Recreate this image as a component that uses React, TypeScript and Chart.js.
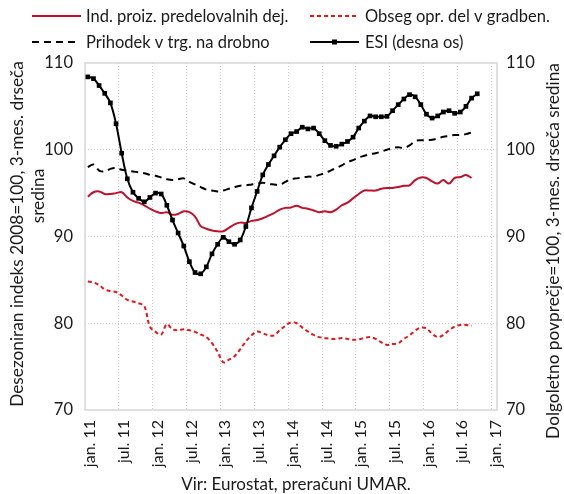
import React, { useEffect, useRef } from "react";
import { Chart, registerables } from "chart.js";
Chart.register(...registerables);

const FONT = "Lato";

const MONTH_NAMES = ["jan.", "feb.", "mar.", "apr.", "maj", "jun.", "jul.", "avg.", "sep.", "okt.", "nov.", "dec."];
const YEARS = ["11", "12", "13", "14", "15", "16", "17"];
const CATEGORIES: string[] = [];
YEARS.forEach((y) => MONTH_NAMES.forEach((m) => CATEGORIES.push(m + " " + y)));
CATEGORIES.length = 73; // jan. 11 .. jan. 17

const TICK_LABELS = ["jan. 11", "jul. 11", "jan. 12", "jul. 12", "jan. 13", "jul. 13", "jan. 14", "jul. 14", "jan. 15", "jul. 15", "jan. 16", "jul. 16", "jan. 17"];
const LEFT_TICKS = [70, 80, 90, 100, 110];

const IND_PROIZ = [
  94.6, 95.1, 95.2, 94.9, 94.9, 95.0, 95.1, 94.5, 94.1, 93.9, 93.6, 93.2,
  92.9, 92.7, 92.8, 92.5, 92.6, 92.9, 92.8, 92.3, 91.2, 90.9, 90.7, 90.6,
  90.6, 91.0, 91.4, 91.6, 91.55, 91.8, 91.9, 92.1, 92.4, 92.7, 93.1, 93.3,
  93.35, 93.55, 93.3, 93.2, 93.0, 92.8, 92.9, 92.8, 93.1, 93.6, 93.9, 94.4,
  94.9, 95.3, 95.3, 95.3, 95.5, 95.6, 95.6, 95.7, 95.85, 95.9, 96.5, 96.8,
  96.75, 96.35, 96.1, 96.5, 96.1, 96.75, 96.85, 97.1, 96.75,
];

const OBSEG_GRAD = [
  84.8, 84.7, 84.4, 83.9, 83.7, 83.6, 83.2, 82.7, 82.5, 82.3, 82.0, 79.6,
  79.0, 78.7, 79.9, 79.3, 79.2, 79.3, 79.2, 79.0, 78.7, 78.4, 77.7, 76.7,
  75.5, 75.8, 76.2, 77.0, 77.9, 78.6, 79.05, 78.85, 78.6, 78.6, 79.2, 79.7,
  80.1, 80.0, 79.5, 79.05, 78.65, 78.4, 78.3, 78.2, 78.2, 78.3, 78.2, 78.1,
  78.15, 78.3, 78.4, 78.2, 77.8, 77.5, 77.6, 77.7, 78.2, 78.6, 79.15, 79.5,
  79.4, 78.8, 78.4, 78.65, 79.2, 79.6, 79.8, 79.8, 79.7,
];

const PRIHODEK = [
  98.0, 98.3, 97.6, 97.5, 97.8, 97.9, 97.7, 97.6, 97.5, 97.4, 97.3, 97.1,
  97.0, 96.8, 96.6, 96.5, 96.6, 96.7, 96.3, 96.0, 95.7, 95.4, 95.3, 95.2,
  95.3, 95.5, 95.7, 95.85, 95.9, 96.0, 96.1, 96.2, 96.05, 96.0, 95.95, 96.3,
  96.6, 96.7, 96.8, 96.9, 96.9, 97.1, 97.3, 97.6, 97.9, 98.2, 98.6, 98.8,
  99.1, 99.3, 99.5, 99.6, 99.8, 100.0, 100.2, 100.3, 100.2, 100.5, 101.0, 101.1,
  101.1, 101.15, 101.3, 101.5, 101.6, 101.7, 101.7, 101.8, 102.0,
];

const ESI = [
  108.4, 108.2, 107.4, 106.5, 105.4, 103.0, 99.6, 96.65, 95.1, 94.4, 94.0, 94.5,
  95.0, 94.9, 93.6, 91.9, 90.4, 88.9, 87.1, 85.85, 85.7, 86.5, 88.0, 89.1,
  89.9, 89.4, 89.1, 89.6, 91.15, 93.3, 95.2, 97.1, 98.3, 99.3, 100.3, 101.15,
  101.85, 102.1, 102.6, 102.4, 102.5, 101.85, 101.05, 100.5, 100.4, 100.65, 100.95, 101.45,
  102.5, 103.3, 103.9, 103.8, 103.8, 103.85, 104.5, 105.2, 105.85, 106.35, 106.1, 105.2,
  104.1, 103.65, 103.9, 104.35, 104.5, 104.2, 104.35, 105.0, 105.95, 106.45,
];

const SERIES_NAMES = ["Ind. proiz. predelovalnih dej.", "Obseg opr. del v gradben.", "Prihodek v trg. na drobno", "ESI (desna os)"];
const LEFT_TITLE = ["Desezoniran indeks 2008=100, 3-mes. drseča", "sredina"];
const RIGHT_TITLE = "Dolgoletno povprečje=100, 3-mes. drseča sredina";
const SOURCE = "Vir: Eurostat, preračuni UMAR.";

const C_RED = "#c0102b";
const C_RED2 = "#e8161b";
const C_BLACK = "#000000";
const C_GRID = "#c9c9c9";
const C_BOX = "#d6d6d6";
const C_TEXT = "#1a1a1a";

const decor = {
  id: "decor",
  beforeDatasetsDraw(chart: any) {
    const { ctx, chartArea: a } = chart;
    ctx.save();
    ctx.strokeStyle = C_BOX;
    ctx.lineWidth = 1.5;
    ctx.strokeRect(a.left, a.top, a.right - a.left, a.bottom - a.top);
    ctx.restore();
  },
  afterDraw(chart: any) {
    const { ctx } = chart;
    ctx.save();
    ctx.fillStyle = C_TEXT;
    ctx.textBaseline = "middle";
    // legend
    const items = [
      { t: SERIES_NAMES[0], x0: 32, x1: 81, tx: 86, y: 16, c: C_RED, d: [] as number[], m: false },
      { t: SERIES_NAMES[1], x0: 310, x1: 359, tx: 365, y: 16, c: C_RED2, d: [4, 3], m: false },
      { t: SERIES_NAMES[2], x0: 32, x1: 78, tx: 86, y: 42, c: C_BLACK, d: [7, 5], m: false },
      { t: SERIES_NAMES[3], x0: 310, x1: 359, tx: 365, y: 42, c: C_BLACK, d: [], m: true },
    ];
    ctx.font = `16.5px ${FONT}`;
    ctx.textAlign = "left";
    for (const it of items) {
      ctx.save();
      ctx.strokeStyle = it.c;
      ctx.lineWidth = 2;
      ctx.setLineDash(it.d);
      ctx.beginPath();
      ctx.moveTo(it.x0, it.y);
      ctx.lineTo(it.x1, it.y);
      ctx.stroke();
      if (it.m) {
        ctx.fillStyle = it.c;
        const mx = (it.x0 + it.x1) / 2;
        ctx.fillRect(mx - 2.5, it.y - 2.5, 5, 5);
      }
      ctx.restore();
      ctx.fillText(it.t, it.tx, it.y + 1);
    }
    // left title
    ctx.font = `17.3px ${FONT}`;
    ctx.textAlign = "center";
    ctx.save();
    ctx.translate(17, 234);
    ctx.rotate(-Math.PI / 2);
    ctx.fillText(LEFT_TITLE[0], 0, 0);
    ctx.restore();
    ctx.save();
    ctx.translate(38, 196);
    ctx.rotate(-Math.PI / 2);
    ctx.fillText(LEFT_TITLE[1], 0, 0);
    ctx.restore();
    // right title
    ctx.save();
    ctx.translate(553, 251);
    ctx.rotate(-Math.PI / 2);
    ctx.fillText(RIGHT_TITLE, 0, 0);
    ctx.restore();
    // source
    ctx.font = `17px ${FONT}`;
    ctx.fillText(SOURCE, 296, 485);
    ctx.restore();
  },
};

export default function App() {
  const ref = useRef<HTMLCanvasElement | null>(null);
  useEffect(() => {
    const lineDs = (label: string, data: number[], color: string, dash: number[], axis: string, pts: boolean) => ({
      label,
      data,
      borderColor: color,
      backgroundColor: color,
      borderWidth: 2,
      borderDash: dash,
      pointRadius: pts ? 3.3 : 0,
      pointStyle: "rect",
      pointBorderWidth: 0,
      pointBackgroundColor: color,
      tension: 0.35,
      yAxisID: axis,
      fill: false,
    });
    const chart = new Chart(ref.current as HTMLCanvasElement, {
      type: "line",
      data: {
        labels: CATEGORIES,
        datasets: [
          lineDs(SERIES_NAMES[3], ESI, C_BLACK, [], "y1", true),
          lineDs(SERIES_NAMES[2], PRIHODEK, C_BLACK, [7, 5], "y", false),
          lineDs(SERIES_NAMES[1], OBSEG_GRAD, C_RED2, [4, 3], "y", false),
          lineDs(SERIES_NAMES[0], IND_PROIZ, C_RED, [], "y", false),
        ] as any,
      },
      options: {
        responsive: false,
        animation: false,
        layout: { padding: { top: 63, left: 0, right: 0, bottom: 0 } },
        plugins: { legend: { display: false }, tooltip: { enabled: false }, title: { display: false } },
        scales: {
          x: {
            type: "category",
            offset: true,
            grid: {
              offset: true,
              drawTicks: false,
              color: (c: any) => (c.index !== undefined && c.index > 0 && c.index % 6 === 0 ? C_GRID : "rgba(0,0,0,0)"),
              lineWidth: 1,
            },
            border: { display: false, dash: [1, 2] },
            ticks: {
              autoSkip: false,
              minRotation: 90,
              maxRotation: 90,
              padding: 10,
              labelOffset: 2,
              color: C_TEXT,
              font: { family: FONT, size: 16 },
              callback: (_v: any, i: number) => (i % 6 === 0 ? TICK_LABELS[i / 6] : ""),
            },
            afterFit: (s: any) => { s.height = 84; },
          },
          y: {
            position: "left",
            min: 70,
            max: 110,
            afterBuildTicks: (s: any) => { s.ticks = LEFT_TICKS.map((v) => ({ value: v })); },
            grid: {
              drawTicks: false,
              color: (c: any) => (c.tick && c.tick.value > 70 && c.tick.value < 110 ? C_GRID : "rgba(0,0,0,0)"),
            },
            border: { display: false, dash: [1, 2] },
            ticks: { padding: 12, color: C_TEXT, font: { family: FONT, size: 16.5 } },
            afterFit: (s: any) => { s.width = 85; },
          },
          y1: {
            position: "right",
            min: 70,
            max: 110,
            afterBuildTicks: (s: any) => { s.ticks = LEFT_TICKS.map((v) => ({ value: v })); },
            grid: { drawOnChartArea: false, drawTicks: false },
            border: { display: false },
            ticks: { padding: 9, color: C_TEXT, font: { family: FONT, size: 16.5 } },
            afterFit: (s: any) => { s.width = 67; },
          },
        },
      } as any,
      plugins: [decor],
    });
    return () => chart.destroy();
  }, []);
  return (
    <div style={{ position: "fixed", left: 0, top: 0, width: 564, height: 494, background: "#fff" }}>
      <canvas ref={ref} width={564} height={494} style={{ display: "block" }} />
    </div>
  );
}
